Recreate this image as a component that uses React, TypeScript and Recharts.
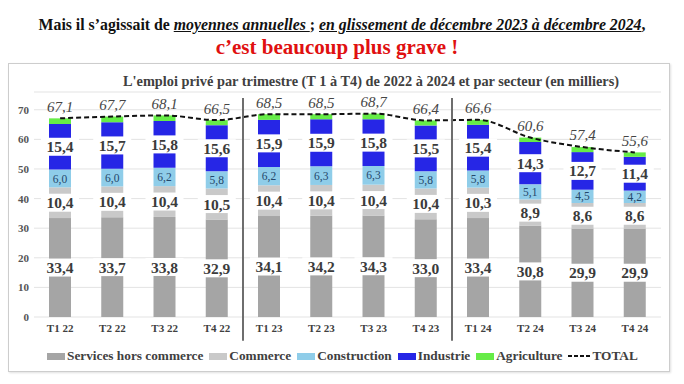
import { ComposedChart, Bar, Line, XAxis, YAxis, CartesianGrid, LabelList, ReferenceLine } from "recharts"

const SERIF = "'Liberation Serif', 'Times New Roman', serif"

const quarters = ["T1 22", "T2 22", "T3 22", "T4 22", "T1 23", "T2 23", "T3 23", "T4 23", "T1 24", "T2 24", "T3 24", "T4 24"]
const services = [33.4, 33.7, 33.8, 32.9, 34.1, 34.2, 34.3, 33.0, 33.4, 30.8, 29.9, 29.9]
const commerce = [10.4, 10.4, 10.4, 10.5, 10.4, 10.4, 10.4, 10.4, 10.3, 8.9, 8.6, 8.6]
const construction = [6.0, 6.0, 6.2, 5.8, 6.2, 6.3, 6.3, 5.8, 5.8, 5.1, 4.5, 4.2]
const industrie = [15.4, 15.7, 15.8, 15.6, 15.9, 15.9, 15.8, 15.5, 15.4, 14.3, 12.7, 11.4]
const agriculture = [1.9, 1.9, 1.9, 1.7, 1.9, 1.7, 1.9, 1.7, 1.7, 1.5, 1.7, 1.5]
const total = [67.1, 67.7, 68.1, 66.5, 68.5, 68.5, 68.7, 66.4, 66.6, 60.6, 57.4, 55.6]
const yTicks = [0, 10, 20, 30, 40, 50, 60, 70]
// séparateurs entre années
const yearEnds = ["T4 22", "T4 23"]

const COLORS = {
  services: "#a5a5a5",
  commerce: "#c9c9c9",
  construction: "#8fcde9",
  industrie: "#2626e6",
  agriculture: "#66ec47",
}

const legendItems = [
  { name: "Services hors commerce", color: COLORS.services },
  { name: "Commerce", color: COLORS.commerce },
  { name: "Construction", color: COLORS.construction },
  { name: "Industrie", color: COLORS.industrie },
  { name: "Agriculture", color: COLORS.agriculture },
]

const data = quarters.map((q, i) => ({
  q,
  services: services[i],
  commerce: commerce[i],
  construction: construction[i],
  industrie: industrie[i],
  agriculture: agriculture[i],
  total: total[i],
}))

const fmt = (v: number) => Number(v).toFixed(1).replace(".", ",")

function box(props: any) {
  const vb = props.viewBox ?? props
  const x = vb.x ?? props.x
  const y = vb.y ?? props.y
  const w = vb.width ?? props.width
  const h = vb.height ?? props.height
  return { cx: x + w / 2, cy: y + h / 2, top: Math.min(y, y + h) }
}

// étiquette avec fond blanc (style Excel)
function BoxedLabel(props: any) {
  const { cx, cy } = box(props)
  return (
    <g>
      <rect x={cx - 19} y={cy - 9} width={38} height={18} fill="#fff" />
      <text x={cx} y={cy} dy="0.36em" textAnchor="middle" fontSize={15.5} fontWeight={700}
        fill="#3b3b3b" style={{ fontFamily: SERIF }}>
        {fmt(props.value)}
      </text>
    </g>
  )
}

function SmallLabel(props: any) {
  const { cx, cy } = box(props)
  return (
    <text x={cx} y={cy} dy="0.36em" textAnchor="middle" fontSize={11.5} fill="#24476b"
      style={{ fontFamily: SERIF }}>
      {fmt(props.value)}
    </text>
  )
}

function TotalLabel(props: any) {
  const { cx, top } = box(props)
  return (
    <text x={cx} y={top - 12} dy="0.36em" textAnchor="middle" fontSize={15} fontStyle="italic"
      fill="#454545" style={{ fontFamily: SERIF }}>
      {fmt(props.value)}
    </text>
  )
}

export default function App() {
  return (
    <div style={{ position: "absolute", left: 0, top: 0, width: 684, height: 384, background: "#fff", fontFamily: SERIF }}>
      <div style={{
        position: "absolute", left: 0, top: 13, width: 684, textAlign: "center", fontSize: 15.8,
        fontWeight: 700, color: "#111", whiteSpace: "nowrap", lineHeight: "24px",
      }}>
        Mais il s’agissait de <i style={{ textDecoration: "underline" }}>moyennes annuelles </i>;{" "}
        <i style={{ textDecoration: "underline" }}>en glissement de décembre 2023 à décembre 2024</i>,
      </div>
      <div style={{
        position: "absolute", left: 0, top: 34, width: 674, textAlign: "center", fontSize: 21,
        fontWeight: 700, color: "#e01010", whiteSpace: "nowrap", lineHeight: "26px",
      }}>
        c’est beaucoup plus grave !
      </div>

      <div style={{
        position: "absolute", left: 8, top: 63, width: 662, height: 309, boxSizing: "border-box",
        border: "1px solid #cdcdcd", boxShadow: "1px 1px 2px rgba(0,0,0,0.12)", background: "#fff",
      }}>
        <svg width={660} height={30} style={{ position: "absolute", left: 0, top: 0 }}>
          <text x={114} y={17} dy="0.36em" fontSize={14.5} fontWeight={700} fill="#404040" textLength={496}
            lengthAdjust="spacingAndGlyphs" style={{ fontFamily: SERIF }}>
            L'emploi privé par trimestre (T 1 à T4) de 2022 à 2024 et par secteur (en milliers)
          </text>
        </svg>

        <div style={{ position: "absolute", left: 0, top: 0 }}>
          <ComposedChart width={660} height={307} data={data} margin={{ top: 28, right: 8, bottom: 24, left: 5 }}
            barSize={22} style={{ fontFamily: SERIF }}>
            <CartesianGrid vertical={false} stroke="#e3e3e3" />
            <XAxis dataKey="q" axisLine={false} tickLine={false} tickSize={0} tickMargin={0} height={30}
              interval={0}
              tick={({ x, y, payload }: any) => (
                <text x={x} y={y + 11} dy="0.36em" textAnchor="middle" fontSize={11} fontWeight={700}
                  fill="#404040" style={{ fontFamily: SERIF }}>
                  {payload.value}
                </text>
              )} />
            <YAxis type="number" domain={[0, 76]} ticks={yTicks} width={20} axisLine={false} tickLine={false}
              tickSize={0} tickMargin={0}
              tick={({ x, y, payload }: any) => (
                <text x={x - 5} y={y} dy="0.36em" textAnchor="end" fontSize={11} fontWeight={700}
                  fill="#555" style={{ fontFamily: SERIF }}>
                  {payload.value}
                </text>
              )} />

            <Bar dataKey="services" stackId="s" fill={COLORS.services} isAnimationActive={false}>
              <LabelList dataKey="services" content={BoxedLabel} />
            </Bar>
            <Bar dataKey="commerce" stackId="s" fill={COLORS.commerce} isAnimationActive={false}>
              <LabelList dataKey="commerce" content={BoxedLabel} />
            </Bar>
            <Bar dataKey="construction" stackId="s" fill={COLORS.construction} isAnimationActive={false}>
              <LabelList dataKey="construction" content={SmallLabel} />
            </Bar>
            <Bar dataKey="industrie" stackId="s" fill={COLORS.industrie} isAnimationActive={false}>
              <LabelList dataKey="industrie" content={BoxedLabel} />
            </Bar>
            <Bar dataKey="agriculture" stackId="s" fill={COLORS.agriculture} isAnimationActive={false}>
              <LabelList dataKey="total" content={TotalLabel} />
            </Bar>

            <Line dataKey="total" type="monotone" stroke="#111" strokeWidth={2} strokeDasharray="5 3"
              dot={false} isAnimationActive={false} />

            {yearEnds.map(q => (
              <ReferenceLine key={q} segment={[{ x: q, y: -8 }, { x: q, y: 74 }]} position="end"
                ifOverflow="visible" stroke="#6e6e6e" strokeWidth={2} />
            ))}
          </ComposedChart>
        </div>

        <div style={{
          position: "absolute", left: 38, top: 284, display: "flex", alignItems: "center",
          fontSize: 13.3, fontWeight: 700, color: "#404040", whiteSpace: "nowrap", fontFamily: SERIF,
        }}>
          {legendItems.map(it => (
            <span key={it.name} style={{ display: "inline-flex", alignItems: "center", marginRight: 6 }}>
              <span style={{ display: "inline-block", width: 18, height: 7, background: it.color, marginRight: 2 }} />
              {it.name}
            </span>
          ))}
          <span style={{ display: "inline-flex", alignItems: "center" }}>
            <svg width={22} height={8} style={{ marginRight: 2 }}>
              <line x1={0} y1={4} x2={22} y2={4} stroke="#111" strokeWidth={2} strokeDasharray="4 2" />
            </svg>
            TOTAL
          </span>
        </div>
      </div>
    </div>
  )
}
